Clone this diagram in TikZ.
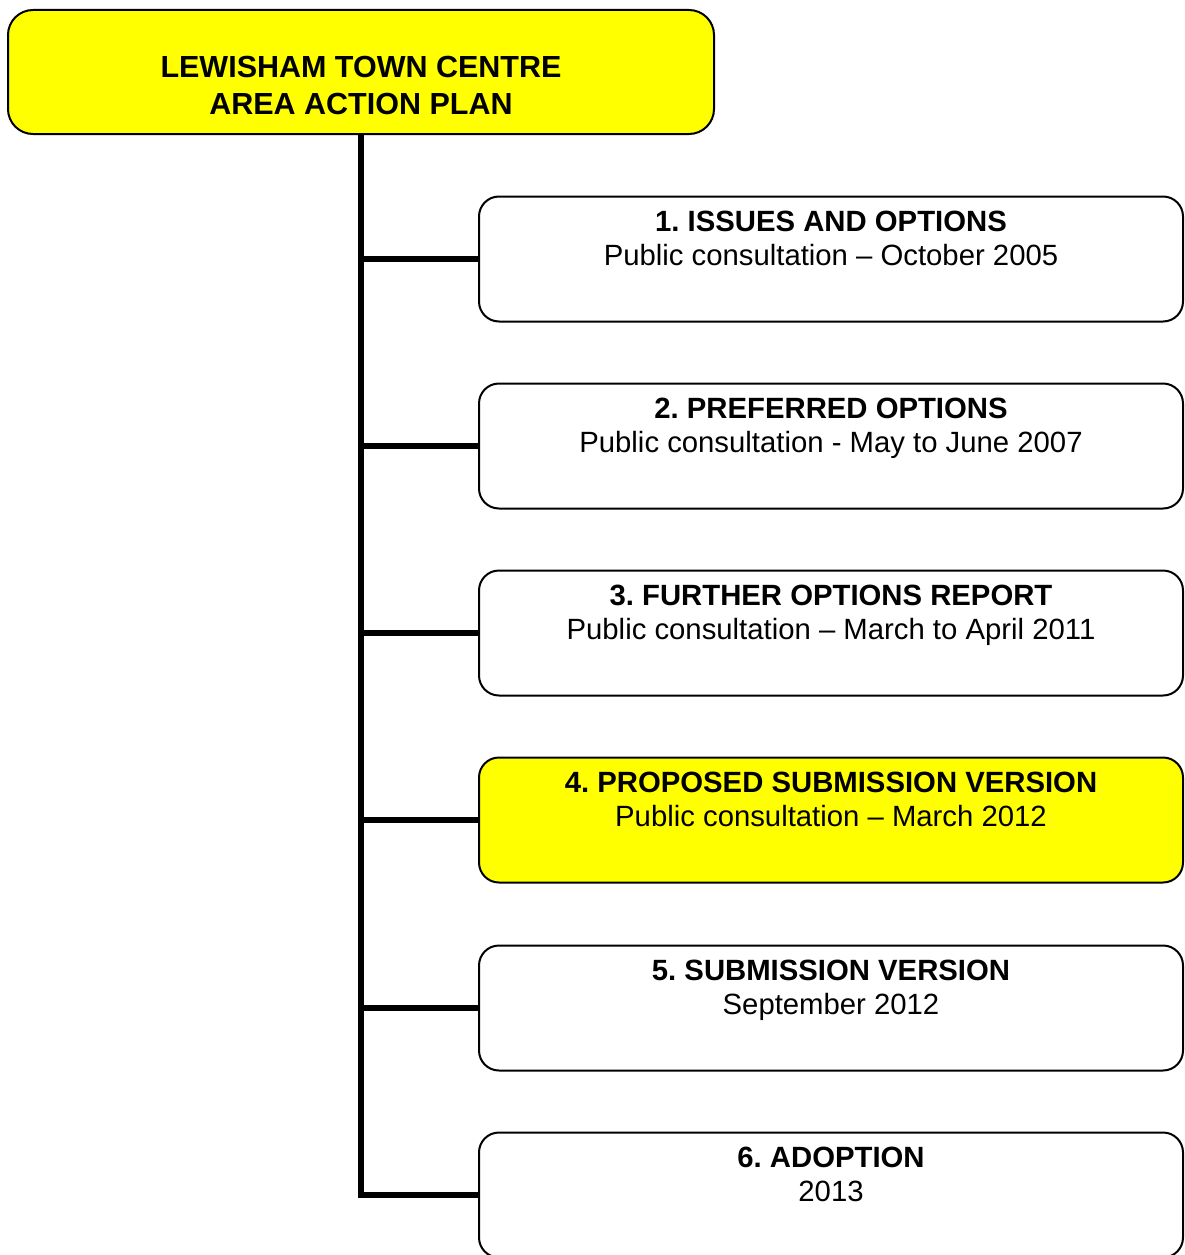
\documentclass[tikz,border=0pt]{standalone}
\usepackage{fontspec}
\setmainfont{Liberation Sans}
\usetikzlibrary{positioning}
\definecolor{planyellow}{RGB}{255,255,0}
\frenchspacing

\begin{document}
\begin{tikzpicture}[x=1pt,y=-1pt,
    every node/.style={font=\fontsize{29.3}{34}\selectfont},
    stage/.style={draw,line width=2pt,rounded corners=20pt,minimum width=704pt,minimum height=125pt,inner sep=0pt},
    stagetext/.style={align=center,inner sep=0pt},
    link/.style={line width=6pt}]
    \useasboundingbox (0,0) rectangle (1184,1255);
    % plan title
    \node[stage,fill=planyellow,minimum width=706pt,minimum height=124pt,rounded corners=25pt] (plan) at (361,72) {};
    \node[stagetext,below=47pt of plan.north,font=\fontsize{30.5}{37}\selectfont\bfseries] (plantext) {LEWISHAM TOWN CENTRE\\AREA ACTION PLAN};
    % stages
    \node[stage] (s1) at (831,259) {};
    \node[stagetext,below=15pt of s1.north] (t1) {\textbf{1. ISSUES AND OPTIONS}\\Public consultation – October 2005};
    \node[stage] (s2) at (831,446) {};
    \node[stagetext,below=15pt of s2.north] (t2) {\textbf{2. PREFERRED OPTIONS}\\Public consultation - May to June 2007};
    \node[stage] (s3) at (831,633) {};
    \node[stagetext,below=15pt of s3.north] (t3) {\textbf{3. FURTHER OPTIONS REPORT}\\Public consultation – March to April 2011};
    \node[stage,fill=planyellow] (s4) at (831,820) {};
    \node[stagetext,below=15pt of s4.north] (t4) {\textbf{4. PROPOSED SUBMISSION VERSION}\\Public consultation – March 2012};
    \node[stage] (s5) at (831,1008) {};
    \node[stagetext,below=15pt of s5.north] (t5) {\textbf{5. SUBMISSION VERSION}\\September 2012};
    \node[stage] (s6) at (831,1195) {};
    \node[stagetext,below=15pt of s6.north] (t6) {\textbf{6. ADOPTION}\\2013};
    % trunk and branches
    \coordinate (j1) at (361,259);
    \coordinate (j2) at (361,446);
    \coordinate (j3) at (361,633);
    \coordinate (j4) at (361,820);
    \coordinate (j5) at (361,1008);
    \draw[link] (plan.south) |- (s6.west);
    \draw[link] (j1) -- (s1.west);
    \draw[link] (j2) -- (s2.west);
    \draw[link] (j3) -- (s3.west);
    \draw[link] (j4) -- (s4.west);
    \draw[link] (j5) -- (s5.west);
\end{tikzpicture}
\end{document}
